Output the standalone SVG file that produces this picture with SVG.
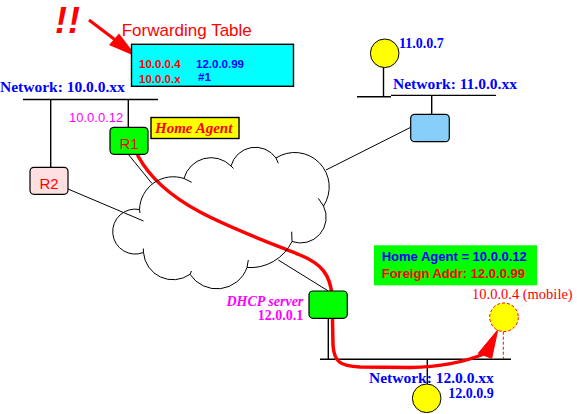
<svg xmlns="http://www.w3.org/2000/svg" width="577" height="414" viewBox="0 0 577 414">
<defs>
<style>
.sans{font-family:"Liberation Sans",Arial,sans-serif}
.serif{font-family:"Liberation Serif","Times New Roman",serif}
.net{stroke:#000;stroke-width:1.4;fill:none}
.thin{stroke:#000;stroke-width:1;fill:none}
.router{stroke:#000;stroke-width:1.2}
.host{fill:#ffff00;stroke:#000;stroke-width:1}
.blue{fill:#0000ff}
.red{fill:#ff0000}
.mag{fill:#ff00ff}
</style>
</defs>
<rect width="577" height="414" fill="#fff"/>

<g id="connectors">
  <line class="net" x1="23" y1="99.5" x2="158" y2="99.5"/>
  <line class="net" x1="50.7" y1="99.5" x2="50.7" y2="167"/>
  <line class="net" x1="128.3" y1="99.5" x2="128.3" y2="127"/>
  <line class="net" x1="357" y1="96.7" x2="391" y2="96.7"/>
  <line class="net" x1="391" y1="95.4" x2="496" y2="95.4"/>
  <line class="net" x1="383.5" y1="67.5" x2="383.5" y2="96.7"/>
  <line class="net" x1="431.7" y1="95.4" x2="431.7" y2="114.3"/>
  <line class="net" x1="320" y1="359.3" x2="511" y2="359.3"/>
  <line class="net" x1="328.3" y1="318.3" x2="328.3" y2="359.3"/>
  <line class="net" x1="427.3" y1="359.3" x2="427.3" y2="384"/>
  <line class="thin" x1="68" y1="189" x2="143.5" y2="221"/>
  <line class="thin" x1="128" y1="154" x2="152" y2="183.5"/>
  <line class="thin" x1="410.7" y1="127.3" x2="326" y2="170"/>
  <line class="thin" x1="278.3" y1="260" x2="328.3" y2="291"/>
  <line x1="503.3" y1="331.7" x2="503.3" y2="359" stroke="#ff0000" stroke-width="1" stroke-dasharray="3,2"/>
  <path d="M138,156 C150,178 170,196 200,212 S270,243 300,255 C322,264 330,275 332,295 L333,345 C334,362 340,366 360,367 L410,367.5 C440,367 465,362 485,353.5" fill="none" stroke="#ff0000" stroke-width="3.5" stroke-linecap="round"/>
  <polygon points="497.7,330 478.3,353.3 491.7,358.3" fill="#ff0000" stroke="#ff0000" stroke-width="1"/>
  <line x1="89" y1="20" x2="118" y2="42" stroke="#ff0000" stroke-width="3"/>
  <polygon points="137,57 109,45 119,33.5" fill="#ff0000"/>
</g>

<g id="internet">
  <path class="thin" d="M143.5,252.5 A22.5,22.5 0 1 1 139.5,209.5 A33.8,33.8 0 0 1 184,178.5 A28,28 0 0 1 231,166 A25.2,25.2 0 0 1 276,158 A34.5,34.5 0 0 1 323.5,206 A25.6,25.6 0 0 1 292,241.5 A46.4,46.4 0 0 1 247,267.5 A32,32 0 0 1 190,274.3 A29.5,29.5 0 0 1 143.5,252.5 Z"/>
  <path class="thin" d="M184,178.5 L191.7,182.3 M231,166 L233.5,168.5 M276,158 L278.3,163.3 M318.3,198.3 L323.5,206 M292,241.5 L291.7,231.7 M247,267.5 L248.3,260 M190,274.3 L191.5,271 M143.5,252.5 L143.3,248.5 M139.5,209.5 L140,213"/>
</g>

<g id="alert">
  <text x="55" y="33" class="sans red" font-size="36" font-weight="bold" font-style="italic" letter-spacing="1">!!</text>
</g>

<g id="forwarding-table">
  <text x="121.7" y="35.5" class="sans red" font-size="17">Forwarding Table</text>
  <rect x="131.5" y="44.3" width="162" height="42" fill="#00ffff" stroke="#000" stroke-width="1.4"/>
  <text x="139" y="68" class="sans red" font-size="11.5" font-weight="bold">10.0.0.4</text>
  <text x="196" y="68" class="sans blue" font-size="11.5" font-weight="bold">12.0.0.99</text>
  <text x="139" y="82.5" class="sans red" font-size="11.5" font-weight="bold">10.0.0.x</text>
  <text x="198" y="81" class="sans blue" font-size="11.5" font-weight="bold">#1</text>
</g>

<g id="net-10">
  <text x="0" y="92" class="serif blue" font-size="15.5" font-weight="bold">Network: 10.0.0.xx</text>
</g>

<g id="R1">
  <text x="69" y="122" class="sans mag" font-size="13">10.0.0.12</text>
  <rect class="router" x="110" y="127.3" width="38" height="27" rx="4" fill="#00ff00"/>
  <text x="129" y="149" class="sans red" font-size="15" text-anchor="middle">R1</text>
</g>

<g id="home-agent-label">
  <rect x="151" y="117.5" width="88" height="21" fill="#ffff00" stroke="#000" stroke-width="1.4"/>
  <text x="155" y="132.5" class="serif red" font-size="15" font-weight="bold" font-style="italic">Home Agent</text>
</g>

<g id="R2">
  <rect class="router" x="30" y="167.3" width="38" height="27" rx="4" fill="#ffe0e0"/>
  <text x="49" y="189" class="sans red" font-size="15" text-anchor="middle">R2</text>
</g>

<g id="host-11-0-0-7">
  <circle class="host" cx="384.7" cy="53.3" r="14.3"/>
  <text x="399" y="47.7" class="serif blue" font-size="14" font-weight="bold">11.0.0.7</text>
</g>

<g id="net-11">
  <text x="393" y="89.3" class="serif blue" font-size="15.5" font-weight="bold">Network: 11.0.0.xx</text>
</g>

<g id="R3">
  <rect class="router" x="410.7" y="114.3" width="38.6" height="27.4" rx="4" fill="#87cefa"/>
</g>

<g id="binding-info">
  <rect x="374" y="245.3" width="163" height="40" fill="#00ff00"/>
  <text x="381.7" y="260.7" class="sans blue" font-size="13" font-weight="bold">Home Agent = 10.0.0.12</text>
  <text x="381.7" y="278" class="sans red" font-size="13" font-weight="bold">Foreign Addr: 12.0.0.99</text>
</g>

<g id="mobile">
  <text x="472" y="299.3" class="serif red" font-size="14.5">10.0.0.4 (mobile)</text>
  <circle cx="504" cy="317.3" r="14.3" fill="#ffff00" stroke="#ff0000" stroke-width="1" stroke-dasharray="3,2"/>
</g>

<g id="dhcp-server">
  <rect class="router" x="309" y="291" width="38.3" height="27.3" rx="4" fill="#00ff00"/>
  <text x="303.3" y="306" class="serif mag" font-size="14" font-weight="bold" font-style="italic" text-anchor="end">DHCP server</text>
  <text x="303.3" y="320" class="serif mag" font-size="14" font-weight="bold" text-anchor="end">12.0.0.1</text>
</g>

<g id="net-12">
  <text x="369" y="383.3" class="serif blue" font-size="15.5" font-weight="bold">Network: 12.0.0.xx</text>
</g>

<g id="host-12-0-0-9">
  <circle class="host" cx="426.7" cy="398.3" r="14.3"/>
  <text x="448.3" y="398.3" class="serif blue" font-size="14" font-weight="bold">12.0.0.9</text>
</g>
</svg>
